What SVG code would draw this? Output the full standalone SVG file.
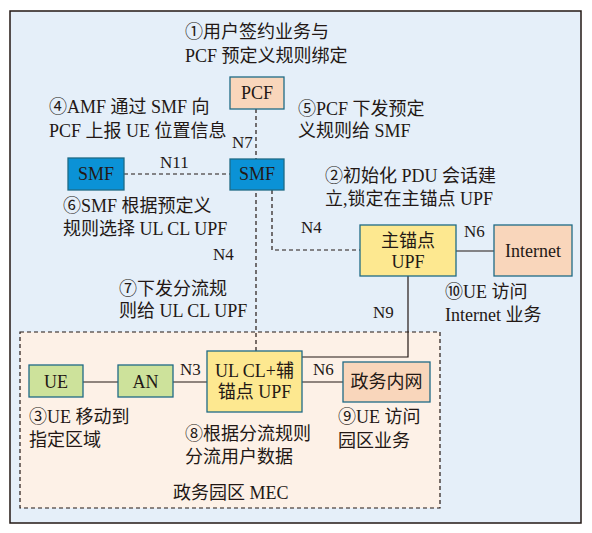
<svg xmlns="http://www.w3.org/2000/svg" width="592" height="533" viewBox="0 0 592 533">
<defs>
<style>
text{font-family:"Liberation Serif","Noto Sans CJK SC",serif;font-size:17px;fill:#231815}
.n{font-size:18px}
.c{text-anchor:middle;font-size:18px}
.box{stroke:#1f6a86;stroke-width:1.3}
.pcf{fill:#f9d6bb}
.smf{fill:#0b92d6}
.upf{fill:#fde890}
.grn{fill:#cde29b}
.dash{fill:none;stroke:#231815;stroke-width:1.2;stroke-dasharray:4 3}
.solid{fill:none;stroke:#231815;stroke-width:1.2}
</style>
</defs>
<rect x="0" y="0" width="592" height="533" fill="#ffffff"/>
<rect id="frame" x="10" y="11" width="571" height="512" fill="#e5eff9" stroke="#231815" stroke-width="1.5"/>
<g id="mec">
<rect x="20" y="332" width="420" height="176" fill="#fdf1e7"/>
<rect x="20" y="332" width="420" height="176" class="dash"/>
<text x="173" y="499" class="n">政务园区 MEC</text>
</g>
<g id="connectors">
<line x1="256" y1="109" x2="256" y2="351" class="dash"/>
<line x1="124" y1="174" x2="230" y2="174" class="dash"/>
<polyline points="272,190 272,250 360,250" class="dash"/>
<line x1="456" y1="251" x2="494" y2="251" class="solid"/>
<polyline points="408,276 408,357 302,357" class="solid"/>
<line x1="83" y1="382" x2="118" y2="382" class="solid"/>
<line x1="173" y1="382" x2="207" y2="382" class="solid"/>
<line x1="302" y1="382" x2="343" y2="382" class="solid"/>
<text x="232" y="148">N7</text>
<text x="160" y="168">N11</text>
<text x="213" y="260">N4</text>
<text x="301" y="233">N4</text>
<text x="464" y="237">N6</text>
<text x="373" y="318">N9</text>
<text x="180" y="375">N3</text>
<text x="313" y="375">N6</text>
</g>
<g id="pcf">
<rect x="230" y="77" width="54" height="32" class="box pcf"/>
<text x="257" y="99" class="c">PCF</text>
</g>
<g id="smf-left">
<rect x="68" y="158" width="56" height="32" class="box smf"/>
<text x="96" y="180" class="c">SMF</text>
</g>
<g id="smf">
<rect x="230" y="159" width="54" height="31" class="box smf"/>
<text x="257" y="180" class="c">SMF</text>
</g>
<g id="upf-main">
<rect x="360" y="225" width="96" height="51" class="box upf"/>
<text x="408" y="247" class="c">主锚点</text>
<text x="408" y="268" class="c">UPF</text>
</g>
<g id="internet">
<rect x="494" y="225" width="78" height="51" class="box pcf"/>
<text x="533" y="257" class="c">Internet</text>
</g>
<g id="ue">
<rect x="29" y="365" width="54" height="32" class="box grn"/>
<text x="56" y="388" class="c">UE</text>
</g>
<g id="an">
<rect x="118" y="365" width="55" height="32" class="box grn"/>
<text x="145.5" y="388" class="c">AN</text>
</g>
<g id="ulcl">
<rect x="207" y="351" width="95" height="61" class="box upf"/>
<text x="254.5" y="377" class="c">UL CL+辅</text>
<text x="254.5" y="398" class="c">锚点 UPF</text>
</g>
<g id="gov">
<rect x="343" y="362" width="87" height="40" class="box pcf"/>
<text x="386.5" y="388" class="c">政务内网</text>
</g>
<g id="labels">
<text x="185" y="38" class="n">①用户签约业务与</text>
<text x="185" y="62" class="n">PCF 预定义规则绑定</text>
<text x="49" y="113" class="n">④AMF 通过 SMF 向</text>
<text x="49" y="137" class="n">PCF 上报 UE 位置信息</text>
<text x="298" y="115" class="n">⑤PCF 下发预定</text>
<text x="298" y="137" class="n">义规则给 SMF</text>
<text x="325" y="182" class="n">②初始化 PDU 会话建</text>
<text x="325" y="205" class="n">立,锁定在主锚点 UPF</text>
<text x="63" y="212" class="n">⑥SMF 根据预定义</text>
<text x="63" y="235" class="n">规则选择 UL CL UPF</text>
<text x="119" y="295" class="n">⑦下发分流规</text>
<text x="119" y="317" class="n">则给 UL CL UPF</text>
<text x="445" y="298" class="n">⑩UE 访问</text>
<text x="445" y="321" class="n">Internet 业务</text>
<text x="29" y="423" class="n">③UE 移动到</text>
<text x="29" y="446" class="n">指定区域</text>
<text x="185" y="440" class="n">⑧根据分流规则</text>
<text x="185" y="463" class="n">分流用户数据</text>
<text x="338" y="423" class="n">⑨UE 访问</text>
<text x="338" y="447" class="n">园区业务</text>
</g>
</svg>
